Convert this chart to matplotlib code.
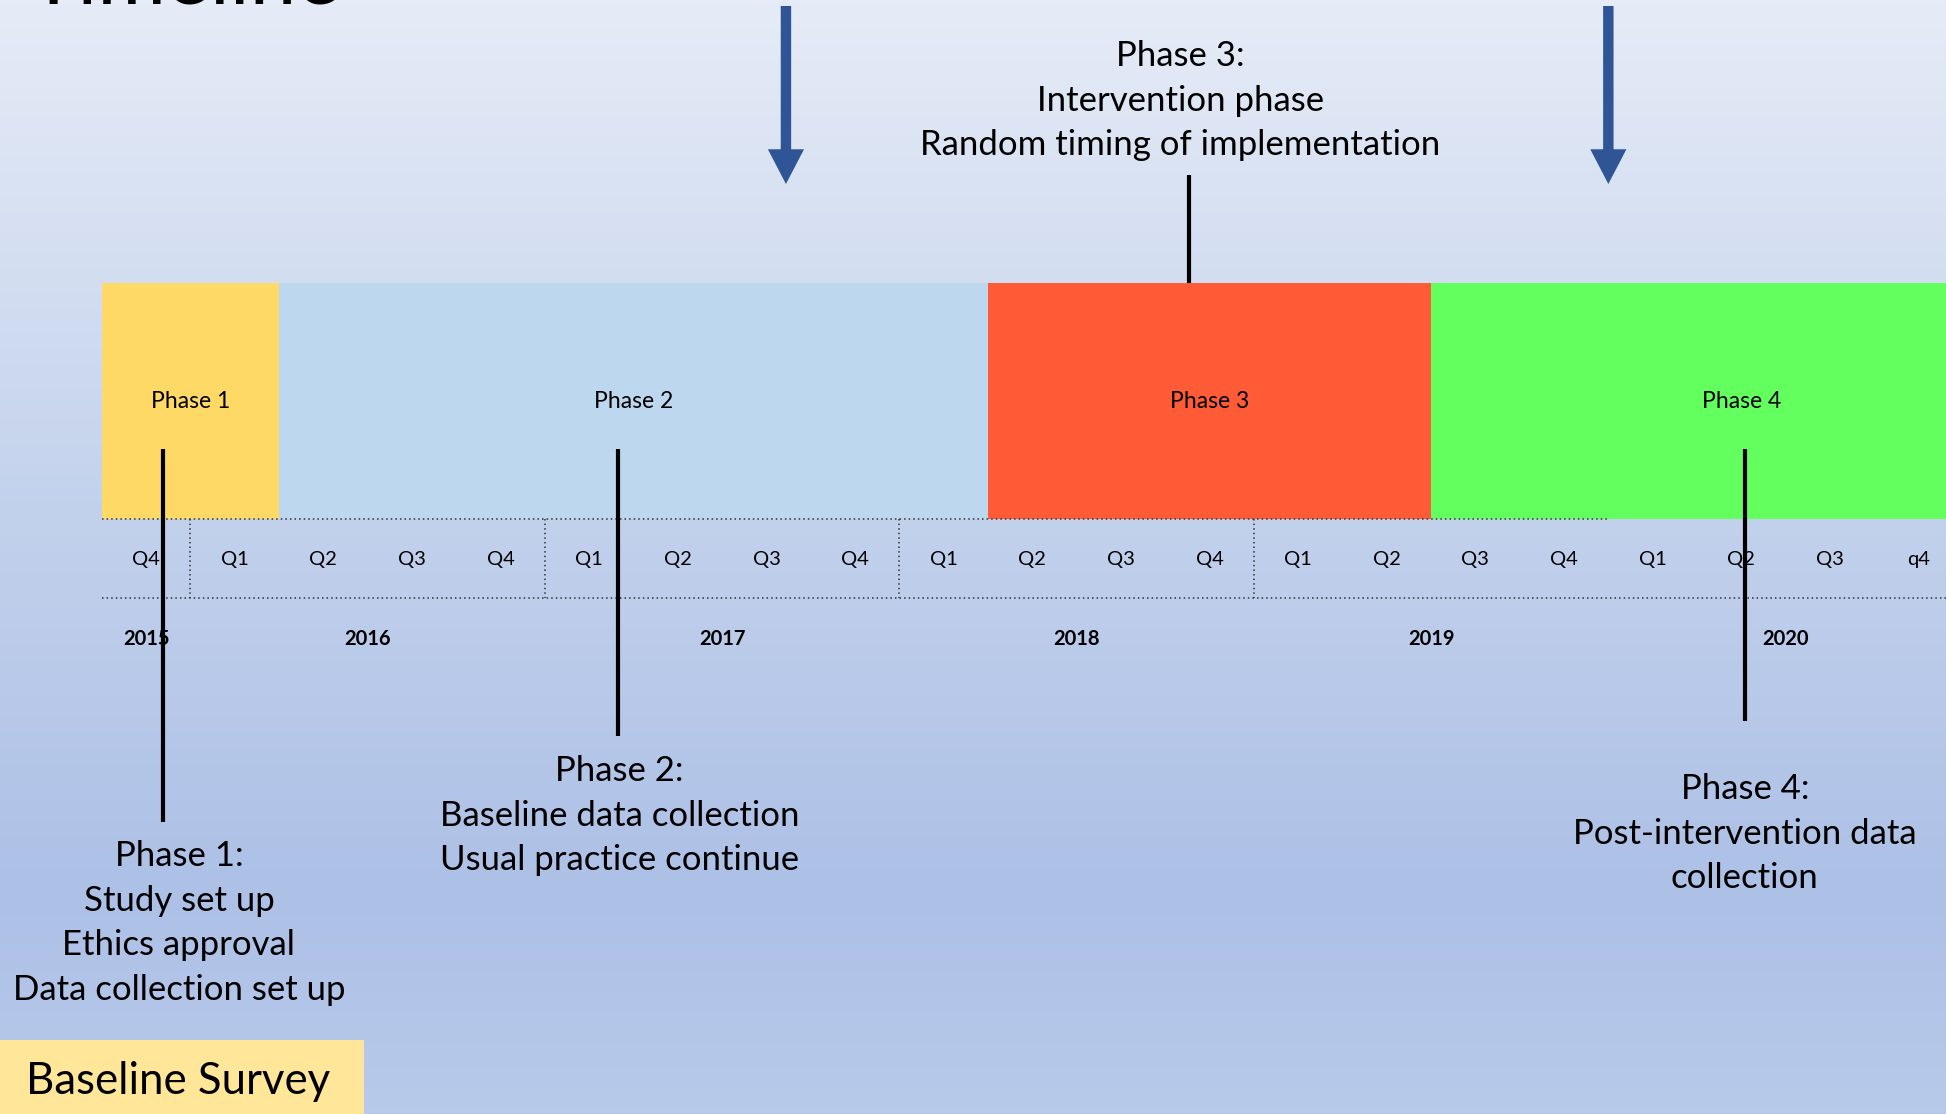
import numpy as np
import matplotlib
matplotlib.use("Agg")
import matplotlib.pyplot as plt
from matplotlib.colors import LinearSegmentedColormap

# timeline is laid out in quarters, q=0 is the start of Q4 2015
quarter_labels = ["Q4",
                  "Q1", "Q2", "Q3", "Q4",
                  "Q1", "Q2", "Q3", "Q4",
                  "Q1", "Q2", "Q3", "Q4",
                  "Q1", "Q2", "Q3", "Q4",
                  "Q1", "Q2", "Q3", "q4"]
years = ["2015", "2016", "2017", "2018", "2019", "2020"]
year_pos = [0.5, 3, 7, 11, 15, 19]
year_breaks = [1, 5, 9, 13]

phase_names = ["Phase 1", "Phase 2", "Phase 3", "Phase 4"]
phase_start = [0, 2, 10, 15]
phase_end = [2, 10, 15, 22]
phase_label_x = [1, 6, 12.5, 18.5]
phase_colors = ["#FFD966", "#BDD7EE", "#FF5B37", "#62FF5E"]

notes = ["Phase 1:\nStudy set up\nEthics approval\nData collection set up",
         "Phase 2:\nBaseline data collection\nUsual practice continue",
         "Phase 3:\nIntervention phase\nRandom timing of implementation",
         "Phase 4:\nPost-intervention data\ncollection"]
note_x = [0.87, 5.84, 12.17, 18.54]
marker_x = [0.69, 5.83, 12.27, 18.54]
arrow_x = [7.72, 17.0]

W, H = 1946, 1114
fig = plt.figure(figsize=(W / 100, H / 100), dpi=100)

# background gradient
bg = fig.add_axes([0, 0, 1, 1])
bg.axis("off")
cmap = LinearSegmentedColormap.from_list(
    "bg", [(0, "#E6ECF7"), (0.45, "#C3D2EC"), (0.8, "#ADC0E6"), (1, "#B8CAEA")])
bg.imshow(np.linspace(0, 1, 256).reshape(-1, 1), aspect="auto", cmap=cmap,
          extent=[0, 1, 0, 1], origin="upper")

ax = fig.add_axes([0, 0, 1, 1])
ax.set_facecolor("none")
x0 = -101.8 / 88.62
ax.set_xlim(x0, (W - 101.8) / 88.62)
ax.set_ylim(H, 0)
ax.axis("off")

font = "Lato"

# heading sits mostly above the top edge
ax.text(2.70, 3, "Timeline", fontsize=60, family=font, ha="right", va="baseline")

# phase bars
bar_top, bar_bot = 283, 519
for name, s, e, lx, c in zip(phase_names, phase_start, phase_end,
                             phase_label_x, phase_colors):
    ax.barh((bar_top + bar_bot) / 2, e - s, left=s, height=bar_bot - bar_top,
            color=c, linewidth=0, zorder=2)
    ax.text(lx, 401, name, fontsize=16.5, family=font,
            ha="center", va="center", zorder=4)

# quarter / year grid
row_bot = 598
dots = dict(ls=(0, (1, 2)), color="#333333", lw=1.1, zorder=3)
ax.plot([0, 17], [bar_bot, bar_bot], **dots)
ax.plot([0, 22], [row_bot, row_bot], **dots)
for b in year_breaks:
    ax.plot([b, b], [bar_bot, row_bot], **dots)
for i, q in enumerate(quarter_labels):
    ax.text(i + 0.5, 560, q, fontsize=14.5, family=font,
            ha="center", va="center", zorder=4)
for y, p in zip(years, year_pos):
    ax.text(p, 639, y, fontsize=14.5, family=font, weight="bold",
            ha="center", va="center", zorder=4)

# marker lines from the bars to the notes
marker_y = [(449, 822), (449, 736), (175, 283), (449, 721)]
for x, (y0, y1) in zip(marker_x, marker_y):
    ax.plot([x, x], [y0, y1], color="black", lw=3, solid_capstyle="butt", zorder=5)

# phase notes, first line of each block at note_y
note_y = [856, 771, 56, 789]
line_gap = 44.7
for t, x, y in zip(notes, note_x, note_y):
    n = t.count("\n")
    ax.text(x, y + n * line_gap / 2, t, fontsize=25, family=font,
            ha="center", va="center", linespacing=1.49, zorder=5)

# survey arrows
for x in arrow_x:
    ax.annotate("", xy=(x, 184), xytext=(x, 6),
                arrowprops=dict(width=7.5, headwidth=26, headlength=25,
                                facecolor="#2F5597", edgecolor="none",
                                shrink=0),
                zorder=5)

# baseline survey box
ax.barh(1077, 364 / 88.62, left=x0, height=74, color="#FFE699",
        linewidth=0, zorder=2)
ax.text(x0 + 178 / 88.62, 1081, "Baseline Survey", fontsize=31.5,
        family=font, ha="center", va="center", zorder=4)

fig.savefig("out.png", dpi=100)
